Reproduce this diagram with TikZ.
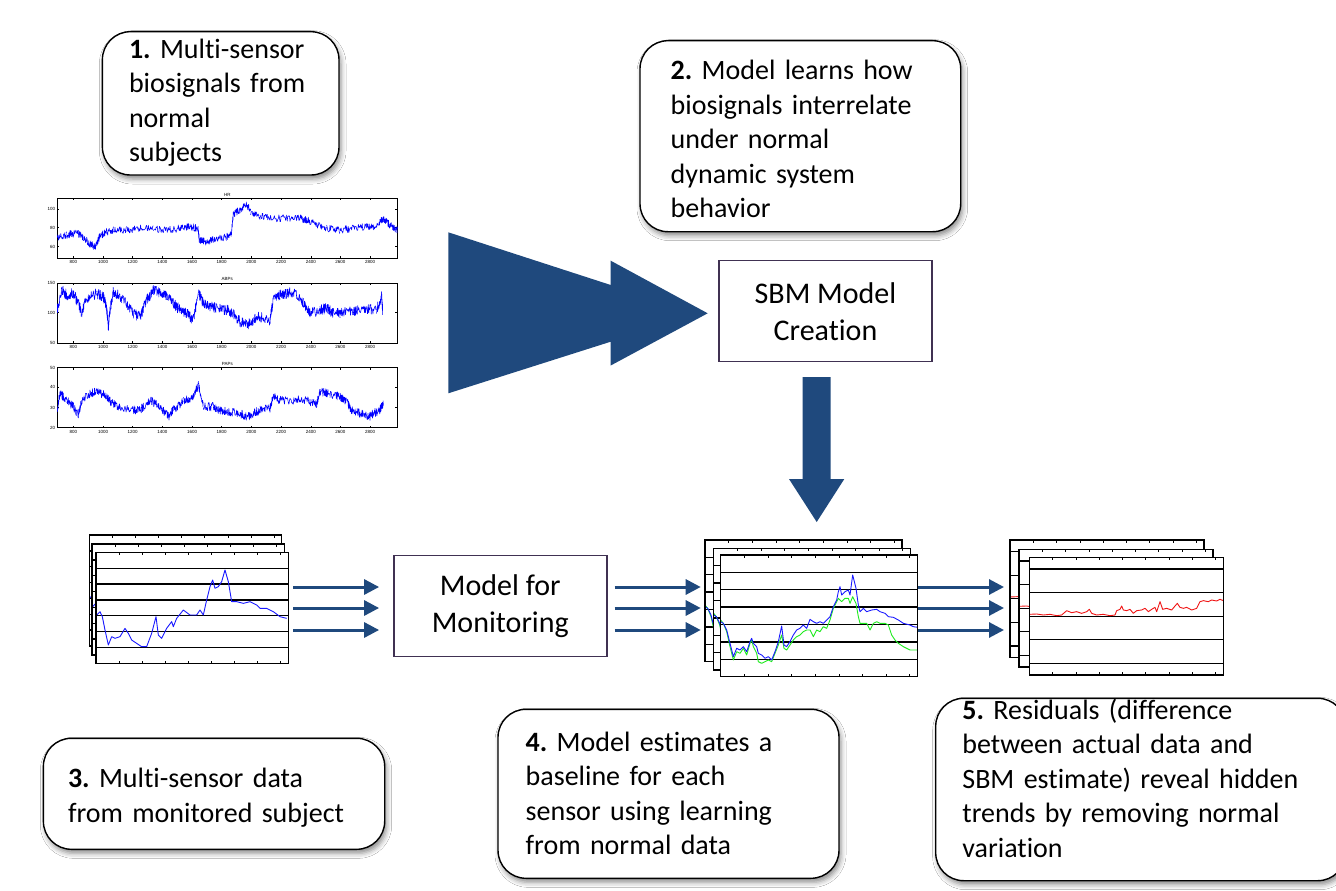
\documentclass[tikz,border=0pt]{standalone}
\usepackage{fontspec}
\setmainfont[Ligatures=NoCommon]{Carlito}
\newfontfamily\plotfont{Liberation Sans}
\usetikzlibrary{arrows.meta,shadows.blur}
\frenchspacing

\definecolor{arrowblue}{RGB}{31,73,125}
\definecolor{procline}{RGB}{64,49,82}
\definecolor{sigblue}{RGB}{25,25,255}
\definecolor{siggreen}{RGB}{30,235,30}
\definecolor{sigred}{RGB}{240,20,20}

\newcommand{\notefont}{\fontsize{28}{34.5}\selectfont}
\newcommand{\procfont}{\fontsize{30}{37}\selectfont}
\newcommand{\tickfont}{\plotfont\fontsize{4.5}{5}\selectfont}

% traces drawn on the stacked sheets (coordinates of the sheet scopes)
\newcommand{\monpath}{(80,285) -- (90,275) -- (97,290) -- (105,330) -- (115,375) -- (125,350) -- (135,355) -- (150,350) -- (165,325) -- (175,340) -- (185,360) -- (200,370) -- (215,380) -- (230,380) -- (245,340) -- (258,290) -- (265,345) -- (275,355) -- (290,325) -- (305,305) -- (310,320) -- (320,295) -- (340,270) -- (360,285) -- (380,285) -- (390,270) -- (400,285) -- (410,240) -- (420,200) -- (428,180) -- (435,205) -- (445,200) -- (455,185) -- (465,150) -- (475,185) -- (485,245) -- (500,245) -- (520,250) -- (540,245) -- (560,255) -- (570,265) -- (590,265) -- (610,275) -- (630,290) -- (650,295)}
\newcommand{\estblue}{(122,305) -- (130,310) -- (140,330) -- (150,370) -- (160,410) -- (170,385) -- (180,390) -- (190,380) -- (200,395) -- (210,365) -- (215,355) -- (220,370) -- (230,380) -- (235,400) -- (245,405) -- (255,415) -- (265,410) -- (275,420) -- (285,395) -- (295,365) -- (305,318) -- (312,375) -- (320,380) -- (330,365) -- (340,345) -- (350,330) -- (360,325) -- (370,315) -- (380,325) -- (390,298) -- (400,305) -- (410,310) -- (420,305) -- (430,310) -- (440,300) -- (450,290) -- (460,260) -- (470,240) -- (475,215) -- (480,200) -- (485,225) -- (495,215) -- (505,210) -- (510,225) -- (518,165) -- (528,205) -- (535,255) -- (540,275) -- (550,265) -- (560,275) -- (575,270) -- (590,268) -- (600,275) -- (615,280) -- (625,290) -- (640,292) -- (655,300) -- (670,310) -- (690,315) -- (700,320) -- (713,322)}
\newcommand{\estgreen}{(122,300) -- (130,310) -- (140,335) -- (150,380) -- (160,420) -- (170,395) -- (180,400) -- (190,385) -- (200,405) -- (210,370) -- (215,360) -- (220,380) -- (230,400) -- (235,425) -- (245,430) -- (255,425) -- (265,420) -- (275,425) -- (285,400) -- (295,375) -- (305,345) -- (312,385) -- (320,390) -- (330,375) -- (340,360) -- (350,350) -- (360,345) -- (370,335) -- (380,330) -- (390,330) -- (400,350) -- (410,330) -- (420,335) -- (430,320) -- (440,325) -- (450,300) -- (460,265) -- (470,245) -- (475,235) -- (485,245) -- (495,235) -- (505,235) -- (510,250) -- (518,230) -- (528,250) -- (535,290) -- (540,310) -- (550,310) -- (560,310) -- (570,330) -- (580,310) -- (590,305) -- (600,310) -- (615,310) -- (625,315) -- (635,345) -- (645,360) -- (655,370) -- (670,380) -- (690,390) -- (713,390)}
\newcommand{\respath}{(118,283) -- (140,282) -- (160,285) -- (180,283) -- (200,287) -- (215,285) -- (230,272) -- (245,278) -- (260,275) -- (275,280) -- (290,275) -- (298,268) -- (305,280) -- (320,285) -- (340,283) -- (360,287) -- (375,285) -- (380,272) -- (390,268) -- (395,258) -- (400,270) -- (410,272) -- (420,268) -- (430,280) -- (440,272) -- (455,270) -- (465,265) -- (475,275) -- (485,268) -- (495,262) -- (500,275) -- (510,245) -- (518,268) -- (530,265) -- (545,270) -- (555,258) -- (562,250) -- (570,262) -- (580,265) -- (590,262) -- (605,270) -- (620,265) -- (630,245) -- (640,242) -- (655,245) -- (665,240) -- (680,243) -- (690,238) -- (700,242)}

\begin{document}
\begin{tikzpicture}[x=1pt, y=-1pt,
    note/.style={draw, line width=1.4pt, rounded corners=28pt, fill=white,
      blur shadow={shadow xshift=2pt, shadow yshift=-4pt, shadow blur radius=5pt, shadow opacity=45},
      inner ysep=0pt, align=left, font=\notefont, anchor=base west},
    proc/.style={draw=procline, line width=1.4pt, fill=white, minimum width=213pt,
      minimum height=101pt, align=center, font=\procfont},
    flow/.style={draw=arrowblue, line width=3pt, -{Triangle[length=15pt,width=15pt]}},
    sheet/.style={draw, fill=white, line width=1.5pt},
    rule/.style={line width=1.3pt},
    tick/.style={line width=0.6pt},
    axis/.style={line width=0.5pt},
    lbl/.style={font=\tickfont, inner sep=2pt},
    mat/.style={draw=blue, line width=0.55pt, line join=round},
    sig/.style={line width=0.9pt, line join=round}]

\path[use as bounding box, fill=white] (0,0) rectangle (1336,891);
\pgfmathsetseed{7}

% text boxes
\node[note, text width=183.4pt, inner xsep=26.6pt, text height=26.6pt, text depth=116.7pt]
  (n1) at (101.7,58.3) {\textbf{1.} Multi-sensor\\ biosignals from\\ normal\\ subjects};
\node[note, text width=259.3pt, inner xsep=30.7pt, text height=39.3pt, text depth=151.7pt]
  (n2) at (639.3,80) {\textbf{2.} Model learns how\\ biosignals interrelate\\ under normal\\ dynamic system\\ behavior};
\node[note, text width=292.1pt, inner xsep=24.6pt, text height=49.4pt, text depth=61.6pt]
  (n3) at (42.7,787.7) {\textbf{3.} Multi-sensor data\\ from monitored subject};
\node[note, text width=285.6pt, inner xsep=27.7pt, text height=41.7pt, text depth=127.3pt]
  (n4) at (497.3,751) {\textbf{4.} Model estimates a\\ baseline for each\\ sensor using learning\\ from normal data};
\node[note, text width=356.6pt, inner xsep=26.7pt, text height=20.7pt, text depth=161.7pt]
  (n5) at (935,719) {\textbf{5.} Residuals (difference\\ between actual data and\\ SBM estimate) reveal hidden\\ trends by removing normal\\ variation};

% training signals
\begin{scope}[shift={(40,180)}, scale=1/3]
  \foreach \tp/\bt/\nm in {55/235/HR, 309/490/ABPs, 563/743/PAPs} {
    \draw[axis] (52,\tp) rectangle (1072,\bt);
    \node[lbl, anchor=south] (t\nm) at (562,\tp) {\nm};
    \foreach \d in {800,1000,...,2800} {
      \draw[axis] ({100+(\d-800)*0.4452},\tp) -- ++(0,6);
      \draw[axis] ({100+(\d-800)*0.4452},\bt) -- ++(0,-6);
      \node[lbl, anchor=north] (x\nm\d) at ({100+(\d-800)*0.4452},\bt) {\d};
    }
  }
  \foreach \v/\yy in {100/87, 80/143, 60/200} {
    \node[lbl, anchor=east] (yh\v) at (52,\yy) {\v};
    \draw[axis] (52,\yy) -- ++(6,0) (1072,\yy) -- ++(-6,0);
  }
  \foreach \v/\yy in {150/309, 100/398, 50/490} {
    \node[lbl, anchor=east] (ya\v) at (52,\yy) {\v};
    \draw[axis] (52,\yy) -- ++(6,0) (1072,\yy) -- ++(-6,0);
  }
  \foreach \v/\yy in {50/563, 40/622, 30/683, 20/743} {
    \node[lbl, anchor=east] (yp\v) at (52,\yy) {\v};
    \draw[axis] (52,\yy) -- ++(6,0) (1072,\yy) -- ++(-6,0);
  }
  % HR
  \foreach \xb/\yb [remember=\xb as \xa (initially 52), remember=\yb as \ya (initially 170)] in
    {80/165, 110/158, 130/172, 150/192, 165/200, 180/168, 200/155, 220/150, 260/150, 300/145,
     340/145, 380/150, 420/145, 450/140, 474/145, 478/182, 500/185, 520/180, 560/170, 574/160,
     580/102, 600/90, 620/72, 632/95, 660/110, 700/115, 740/115, 780/115, 800/120, 830/132,
     860/145, 900/150, 940/145, 980/140, 1000/140, 1030/118, 1050/135, 1072/150}
    \draw[mat] plot[domain=\xa:\xb, samples=25] (\x, {\ya+(\yb-\ya)*(\x-\xa)/(\xb-\xa)+11*rand});
  % ABPs
  \foreach \xb/\yb [remember=\xb as \xa (initially 52), remember=\yb as \ya (initially 390)] in
    {65/330, 80/345, 100/340, 115/370, 125/400, 140/355, 170/340, 190/350, 200/385, 205/440,
     210/390, 220/335, 240/350, 260/370, 280/400, 300/410, 320/360, 340/330, 360/340, 380/350,
     400/370, 420/390, 440/400, 460/420, 475/340, 490/370, 510/380, 530/385, 560/390, 580/400,
     600/425, 620/435, 640/420, 660/410, 690/420, 700/360, 720/345, 740/340, 760/335, 790/370,
     810/400, 840/390, 860/385, 880/400, 900/400, 940/395, 980/385, 1010/390, 1025/350, 1028/395}
    \draw[mat] plot[domain=\xa:\xb, samples=25] (\x, {\ya+(\yb-\ya)*(\x-\xa)/(\xb-\xa)+16*rand});
  % PAPs
  \foreach \xb/\yb [remember=\xb as \xa (initially 52), remember=\yb as \ya (initially 690)] in
    {60/640, 80/660, 100/680, 115/705, 125/665, 150/640, 175/635, 200/650, 215/670, 240/680,
     280/690, 300/690, 330/660, 360/680, 385/710, 400/690, 430/665, 460/650, 475/615, 490/680,
     520/680, 540/690, 560/695, 600/700, 620/712, 640/700, 660/690, 690/685, 700/650, 720/660,
     760/660, 800/660, 830/675, 840/635, 870/640, 900/650, 920/665, 935/690, 960/700, 985/712,
     1000/700, 1020/690, 1030/670}
    \draw[mat] plot[domain=\xa:\xb, samples=25] (\x, {\ya+(\yb-\ya)*(\x-\xa)/(\xb-\xa)+13*rand});
\end{scope}

% block arrows
\fill[arrowblue] (448.3,232.3) -- (610.7,285) -- (610.7,260.7) -- (707.7,313.3)
  -- (610.7,365.5) -- (610.7,341.7) -- (448.3,393.3) -- cycle;
\node[proc] (sbm) at (825.5,311.2) {SBM Model\\Creation};
\fill[arrowblue] (802.7,377) -- (830.7,377) -- (830.7,479) -- (844.3,479)
  -- (816.7,522) -- (789,479) -- (802.7,479) -- cycle;

% monitored data
\begin{scope}[shift={(70,520)}, scale=1/3]
  \foreach \dx/\dy in {-20/-52, -12/-25, 0/0} {
    \begin{scope}[shift={(\dx,\dy)}]
      \draw[sheet] (78,97) rectangle ++(577,333);
      \foreach \k in {1,...,6}
        \draw[rule] (78,{97+\k*333/7}) -- ++(577,0);
      \foreach \t in {0.12,0.24,0.36,0.48,0.6,0.72,0.84,0.96}
        \draw[tick] ({78+\t*577},97) -- ++(0,8) ({78+\t*577},430) -- ++(0,-8);
      \draw[sig, sigblue] \monpath;
      \draw[sheet, fill=none] (78,97) rectangle ++(577,333);
    \end{scope}
  }
\end{scope}

% model estimates
\begin{scope}[shift={(680,520)}, scale=1/3]
  \foreach \dx/\dy in {-47/-45, -21/-20, 0/0} {
    \begin{scope}[shift={(\dx,\dy)}]
      \draw[sheet] (122,105) rectangle ++(591,365);
      \foreach \k in {1,...,6}
        \draw[rule] (122,{105+\k*365/7}) -- ++(591,0);
      \foreach \t in {0.12,0.24,0.36,0.48,0.6,0.72,0.84,0.96}
        \draw[tick] ({122+\t*591},105) -- ++(0,8) ({122+\t*591},470) -- ++(0,-8);
      \draw[sig, siggreen] \estgreen;
      \draw[sig, sigblue] \estblue;
      \draw[sheet, fill=none] (122,105) rectangle ++(591,365);
    \end{scope}
  }
\end{scope}

% residuals
\begin{scope}[shift={(990,520)}, scale=1/3]
  \foreach \dx/\dy in {-58/-52, -31/-24, 0/0} {
    \begin{scope}[shift={(\dx,\dy)}]
      \draw[sheet] (118,112) rectangle ++(582,353);
      \foreach \k in {0,...,4}
        \draw[rule] (118,{112+(\k+0.5)*353/5}) -- ++(582,0);
      \foreach \t in {0.12,0.24,0.36,0.48,0.6,0.72,0.84,0.96}
        \draw[tick] ({118+\t*582},112) -- ++(0,8) ({118+\t*582},465) -- ++(0,-8);
      \draw[sig, sigred] \respath;
      \draw[sheet, fill=none] (118,112) rectangle ++(582,353);
    \end{scope}
  }
\end{scope}

% flow arrows
\node[proc] (mon) at (500.3,606.2) {Model for\\Monitoring};
\coordinate (a1) at (293,587);
\coordinate (a2) at (293,608);
\coordinate (a3) at (293,630);
\coordinate (b1) at (700.7,587);
\coordinate (b2) at (700.7,608);
\coordinate (b3) at (700.7,630);
\coordinate (c1) at (918,587);
\coordinate (c2) at (918,608);
\coordinate (c3) at (918,630);
\coordinate (d1) at (1004,587);
\coordinate (d2) at (1004,608);
\coordinate (d3) at (1004,630);
\foreach \i in {1,2,3} {
  \draw[flow, shorten >=14pt] (a\i) -- (a\i -| mon.west);
  \draw[flow, shorten <=7pt] (a\i -| mon.east) -- (b\i);
  \draw[flow] (c\i) -- (d\i);
}
\end{tikzpicture}
\end{document}
